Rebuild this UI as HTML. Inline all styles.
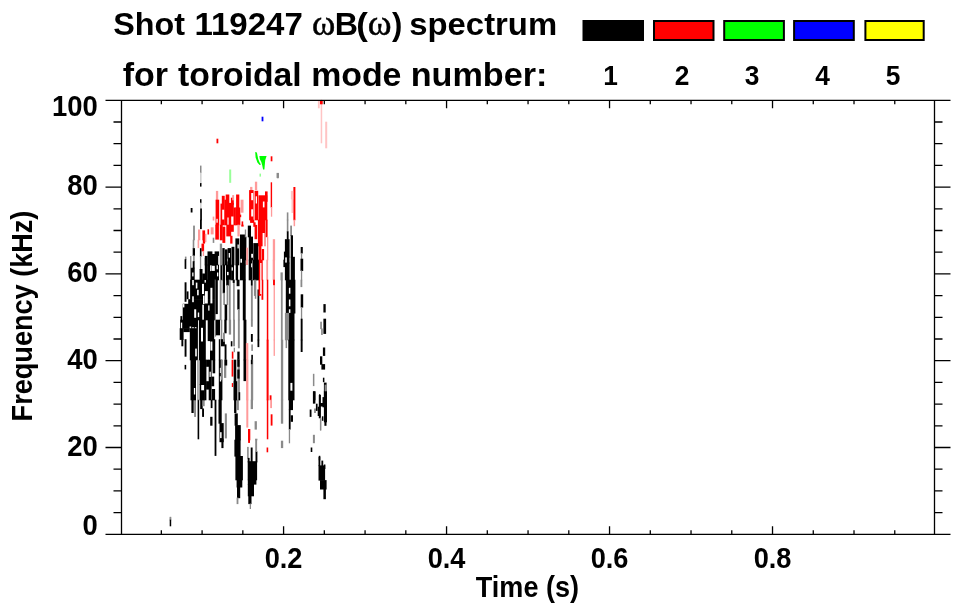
<!DOCTYPE html>
<html><head><meta charset="utf-8"><style>
html,body{margin:0;padding:0;background:#fff;width:963px;height:615px;overflow:hidden}
svg{position:absolute;left:0;top:0}
text{font-family:"Liberation Sans",Arial,sans-serif;font-weight:bold;fill:#000}
.g{font-family:"Liberation Serif","DejaVu Serif",serif;font-weight:normal;stroke:#000;stroke-width:0.45px}
</style></head><body>
<svg width="963" height="615" viewBox="0 0 963 615">
<defs><filter id="bl" x="0" y="0" width="1" height="1"><feGaussianBlur stdDeviation="0.5"/></filter></defs><g filter="url(#bl)"><rect x="200.0" y="165.6" width="1.5" height="7.4" fill="#8a8a8a"/>
<rect x="200.2" y="172.4" width="1.3" height="11.3" fill="#c8c8c8"/>
<rect x="200.0" y="183.1" width="1.5" height="3.5" fill="#000"/>
<rect x="200.0" y="199.2" width="1.5" height="4.0" fill="#000"/>
<rect x="200.2" y="202.6" width="1.3" height="6.5" fill="#c8c8c8"/>
<rect x="200.2" y="208.5" width="1.7" height="11.8" fill="#000"/>
<rect x="190.7" y="208.0" width="1.8" height="4.5" fill="#000"/>
<rect x="229.2" y="169.5" width="2.0" height="13.3" fill="#9f9"/>
<rect x="276.6" y="172.9" width="2.3" height="5.0" fill="#8a8a8a"/>
<rect x="293.4" y="187.0" width="2.0" height="33.3" fill="#f00"/>
<rect x="290.9" y="190.9" width="2.3" height="8.4" fill="#ffc4c4"/>
<rect x="291.5" y="198.7" width="1.5" height="14.3" fill="#ffc4c4"/>
<rect x="286.8" y="212.4" width="1.6" height="7.9" fill="#8a8a8a"/>
<rect x="200.0" y="219.7" width="1.8" height="9.4" fill="#000"/>
<rect x="193.1" y="225.6" width="1.8" height="14.7" fill="#8a8a8a"/>
<rect x="198.0" y="229.5" width="2.3" height="10.8" fill="#ff9a9a"/>
<rect x="202.4" y="230.4" width="2.7" height="9.9" fill="#f00"/>
<rect x="258.0" y="259.7" width="4.7" height="20.6" fill="#f00"/>
<rect x="266.3" y="259.7" width="1.8" height="20.6" fill="#ff9a9a"/>
<rect x="254.8" y="259.7" width="2.5" height="2.6" fill="#000"/>
<rect x="254.8" y="268.5" width="2.5" height="11.8" fill="#000"/>
<rect x="254.8" y="259.7" width="4.0" height="20.6" fill="#000"/>
<rect x="272.7" y="259.7" width="2.3" height="20.6" fill="#ff9a9a"/>
<rect x="283.4" y="259.7" width="1.8" height="7.4" fill="#000"/>
<rect x="280.5" y="272.4" width="2.3" height="7.9" fill="#8a8a8a"/>
<rect x="286.8" y="219.7" width="1.6" height="12.3" fill="#8a8a8a"/>
<rect x="286.8" y="231.4" width="1.8" height="8.4" fill="#000"/>
<rect x="284.9" y="239.2" width="4.7" height="18.2" fill="#000"/>
<rect x="286.8" y="256.8" width="2.7" height="6.5" fill="#000"/>
<rect x="284.9" y="262.6" width="4.7" height="17.7" fill="#000"/>
<rect x="290.2" y="225.6" width="1.8" height="10.4" fill="#8a8a8a"/>
<rect x="290.7" y="235.3" width="2.3" height="22.1" fill="#000"/>
<rect x="290.7" y="256.8" width="4.2" height="23.5" fill="#000"/>
<rect x="293.6" y="219.7" width="1.5" height="6.5" fill="#ff9a9a"/>
<rect x="300.7" y="247.0" width="2.1" height="6.5" fill="#000"/>
<rect x="300.9" y="252.9" width="1.3" height="6.5" fill="#8a8a8a"/>
<rect x="300.5" y="258.7" width="2.7" height="12.3" fill="#000"/>
<rect x="300.9" y="270.4" width="1.3" height="9.9" fill="#8a8a8a"/>
<rect x="254.8" y="279.7" width="1.5" height="19.1" fill="#8a8a8a"/>
<rect x="257.5" y="289.5" width="1.8" height="50.8" fill="#000"/>
<rect x="266.8" y="279.7" width="1.5" height="60.6" fill="#f00"/>
<rect x="273.6" y="279.7" width="1.3" height="60.6" fill="#ff9a9a"/>
<rect x="273.1" y="279.7" width="1.8" height="5.5" fill="#f00"/>
<rect x="280.9" y="279.7" width="1.8" height="60.6" fill="#8a8a8a"/>
<rect x="285.8" y="279.7" width="9.6" height="33.8" fill="#000"/>
<rect x="288.9" y="287.8" width="1.5" height="5.9" fill="#fff"/>
<rect x="288.9" y="299.5" width="1.5" height="6.8" fill="#fff"/>
<rect x="288.9" y="309.3" width="1.5" height="3.9" fill="#fff"/>
<rect x="288.8" y="312.9" width="5.7" height="27.4" fill="#000"/>
<rect x="284.9" y="312.9" width="4.2" height="27.4" fill="#8a8a8a"/>
<rect x="300.5" y="279.7" width="1.8" height="7.4" fill="#8a8a8a"/>
<rect x="300.7" y="294.3" width="2.5" height="13.3" fill="#000"/>
<rect x="300.9" y="307.0" width="1.3" height="12.3" fill="#8a8a8a"/>
<rect x="300.7" y="318.7" width="1.9" height="21.6" fill="#000"/>
<rect x="323.4" y="304.1" width="2.3" height="8.4" fill="#000"/>
<rect x="323.4" y="318.7" width="2.7" height="15.2" fill="#000"/>
<rect x="320.2" y="321.7" width="1.7" height="7.4" fill="#8a8a8a"/>
<rect x="321.1" y="328.5" width="1.7" height="6.5" fill="#8a8a8a"/>
<rect x="257.5" y="339.7" width="1.8" height="7.4" fill="#000"/>
<rect x="266.6" y="339.7" width="2.0" height="60.6" fill="#f00"/>
<rect x="269.7" y="395.3" width="1.8" height="5.0" fill="#f00"/>
<rect x="273.6" y="339.7" width="1.3" height="16.2" fill="#ff9a9a"/>
<rect x="280.9" y="339.7" width="2.3" height="60.6" fill="#8a8a8a"/>
<rect x="288.3" y="339.7" width="6.2" height="60.6" fill="#000"/>
<rect x="290.4" y="382.9" width="2.0" height="7.8" fill="#fff"/>
<rect x="285.6" y="339.7" width="1.5" height="8.4" fill="#8a8a8a"/>
<rect x="300.7" y="339.7" width="1.9" height="12.3" fill="#000"/>
<rect x="322.9" y="347.5" width="2.3" height="8.4" fill="#000"/>
<rect x="320.0" y="356.3" width="2.3" height="8.4" fill="#000"/>
<rect x="321.4" y="364.1" width="3.7" height="5.5" fill="#000"/>
<rect x="312.9" y="373.8" width="1.5" height="12.3" fill="#8a8a8a"/>
<rect x="313.1" y="391.4" width="2.3" height="8.9" fill="#000"/>
<rect x="319.0" y="394.3" width="1.3" height="6.0" fill="#000"/>
<rect x="322.9" y="377.7" width="1.5" height="4.5" fill="#000"/>
<rect x="323.9" y="382.6" width="2.7" height="17.7" fill="#000"/>
<rect x="191.4" y="399.7" width="2.3" height="13.3" fill="#000"/>
<rect x="194.1" y="399.7" width="1.9" height="17.2" fill="#8a8a8a"/>
<rect x="197.6" y="399.7" width="1.6" height="39.6" fill="#000"/>
<rect x="200.2" y="399.7" width="2.5" height="9.4" fill="#000"/>
<rect x="202.4" y="399.7" width="2.3" height="6.5" fill="#8a8a8a"/>
<rect x="202.1" y="408.5" width="1.9" height="8.4" fill="#000"/>
<rect x="210.7" y="399.7" width="1.8" height="8.4" fill="#000"/>
<rect x="210.2" y="416.8" width="2.3" height="8.9" fill="#000"/>
<rect x="214.6" y="399.7" width="1.8" height="56.2" fill="#000"/>
<rect x="218.5" y="399.7" width="3.2" height="24.0" fill="#000"/>
<rect x="219.5" y="423.1" width="4.2" height="19.1" fill="#000"/>
<rect x="220.1" y="432.2" width="1.5" height="5.9" fill="#fff"/>
<rect x="221.4" y="438.7" width="2.1" height="9.4" fill="#000"/>
<rect x="224.8" y="413.4" width="2.1" height="25.0" fill="#8a8a8a"/>
<rect x="234.1" y="399.7" width="2.3" height="13.3" fill="#000"/>
<rect x="236.6" y="399.7" width="2.3" height="10.4" fill="#8a8a8a"/>
<rect x="234.6" y="413.4" width="3.2" height="12.3" fill="#000"/>
<rect x="235.1" y="425.1" width="5.7" height="15.2" fill="#000"/>
<rect x="246.3" y="399.7" width="2.0" height="27.9" fill="#ff9a9a"/>
<rect x="248.0" y="429.0" width="2.3" height="11.3" fill="#f00"/>
<rect x="250.7" y="399.7" width="2.3" height="9.4" fill="#8a8a8a"/>
<rect x="254.6" y="421.2" width="2.3" height="8.4" fill="#8a8a8a"/>
<rect x="255.1" y="438.7" width="2.3" height="1.6" fill="#8a8a8a"/>
<rect x="266.8" y="399.7" width="1.5" height="39.6" fill="#f00"/>
<rect x="270.2" y="399.7" width="1.8" height="8.4" fill="#ff9a9a"/>
<rect x="270.7" y="414.3" width="1.8" height="11.3" fill="#f00"/>
<rect x="280.9" y="399.7" width="2.3" height="24.0" fill="#8a8a8a"/>
<rect x="280.9" y="440.7" width="2.3" height="7.4" fill="#8a8a8a"/>
<rect x="288.8" y="399.7" width="4.2" height="10.4" fill="#000"/>
<rect x="288.8" y="409.5" width="1.8" height="20.1" fill="#000"/>
<rect x="290.7" y="415.3" width="2.3" height="6.5" fill="#000"/>
<rect x="288.8" y="429.0" width="1.3" height="14.3" fill="#8a8a8a"/>
<rect x="309.7" y="409.5" width="1.8" height="7.4" fill="#000"/>
<rect x="313.1" y="399.7" width="1.3" height="3.5" fill="#000"/>
<rect x="314.1" y="408.5" width="1.8" height="4.5" fill="#8a8a8a"/>
<rect x="320.0" y="418.2" width="1.3" height="12.3" fill="#8a8a8a"/>
<rect x="321.9" y="416.3" width="1.5" height="4.5" fill="#000"/>
<rect x="312.9" y="434.8" width="2.0" height="8.4" fill="#8a8a8a"/>
<rect x="310.7" y="447.5" width="1.6" height="4.5" fill="#000"/>
<rect x="318.8" y="455.8" width="1.5" height="4.5" fill="#000"/>
<rect x="169.7" y="516.8" width="1.5" height="3.5" fill="#8a8a8a"/>
<rect x="236.6" y="479.7" width="5.7" height="7.8" fill="#000"/>
<rect x="237.0" y="486.9" width="3.2" height="11.3" fill="#000"/>
<rect x="236.6" y="497.6" width="1.8" height="6.5" fill="#8a8a8a"/>
<rect x="247.8" y="479.7" width="8.6" height="4.9" fill="#000"/>
<rect x="247.8" y="484.0" width="6.2" height="12.3" fill="#000"/>
<rect x="248.3" y="495.7" width="3.2" height="8.4" fill="#000"/>
<rect x="249.7" y="503.5" width="1.3" height="5.5" fill="#8a8a8a"/>
<rect x="318.5" y="456.7" width="1.8" height="9.4" fill="#000"/>
<rect x="318.5" y="465.4" width="6.6" height="15.2" fill="#000"/>
<rect x="320.0" y="480.1" width="6.6" height="9.4" fill="#000"/>
<rect x="323.4" y="488.8" width="2.5" height="10.4" fill="#000"/>
<rect x="321.4" y="460.6" width="1.8" height="5.5" fill="#000"/>
<rect x="323.9" y="464.5" width="1.5" height="4.5" fill="#000"/>
<rect x="192.7" y="239.7" width="1.6" height="9.1" fill="#8a8a8a"/>
<rect x="192.7" y="248.2" width="2.3" height="7.8" fill="#000"/>
<rect x="193.1" y="255.3" width="1.6" height="6.5" fill="#8a8a8a"/>
<rect x="192.7" y="261.2" width="1.9" height="7.1" fill="#000"/>
<rect x="190.5" y="267.7" width="4.2" height="12.6" fill="#000"/>
<rect x="192.2" y="272.5" width="1.3" height="3.9" fill="#fff"/>
<rect x="190.1" y="256.0" width="1.3" height="12.3" fill="#8a8a8a"/>
<rect x="184.9" y="256.6" width="1.6" height="3.2" fill="#8a8a8a"/>
<rect x="184.6" y="259.2" width="1.7" height="9.7" fill="#000"/>
<rect x="197.6" y="239.7" width="1.6" height="8.4" fill="#ff9a9a"/>
<rect x="201.5" y="243.6" width="2.6" height="7.8" fill="#f00"/>
<rect x="202.8" y="239.7" width="2.3" height="3.9" fill="#f00"/>
<rect x="202.8" y="250.8" width="1.3" height="5.2" fill="#ff9a9a"/>
<rect x="199.9" y="248.2" width="1.6" height="8.4" fill="#000"/>
<rect x="199.9" y="256.0" width="1.3" height="13.6" fill="#8a8a8a"/>
<rect x="199.6" y="269.0" width="2.9" height="11.3" fill="#000"/>
<rect x="202.2" y="273.5" width="2.9" height="6.8" fill="#000"/>
<rect x="204.8" y="264.7" width="2.9" height="15.6" fill="#000"/>
<rect x="204.8" y="257.9" width="0.4" height="7.4" fill="#000"/>
<rect x="207.4" y="264.7" width="4.2" height="15.6" fill="#000"/>
<rect x="210.1" y="265.0" width="1.3" height="6.2" fill="#fff"/>
<rect x="212.2" y="264.7" width="2.9" height="1.0" fill="#000"/>
<rect x="210.6" y="270.9" width="4.5" height="9.4" fill="#000"/>
<rect x="214.8" y="264.7" width="4.2" height="15.6" fill="#000"/>
<rect x="216.6" y="265.0" width="1.3" height="4.3" fill="#fff"/>
<rect x="217.0" y="272.5" width="1.3" height="3.9" fill="#fff"/>
<rect x="220.4" y="264.7" width="1.9" height="15.6" fill="#000"/>
<rect x="222.7" y="264.7" width="2.3" height="15.6" fill="#000"/>
<rect x="225.9" y="264.7" width="5.2" height="15.6" fill="#000"/>
<rect x="227.0" y="271.9" width="1.6" height="3.3" fill="#fff"/>
<rect x="231.1" y="264.7" width="2.9" height="15.6" fill="#000"/>
<rect x="231.6" y="267.3" width="1.3" height="3.3" fill="#fff"/>
<rect x="235.7" y="264.7" width="2.4" height="15.6" fill="#000"/>
<rect x="239.9" y="264.7" width="5.8" height="15.6" fill="#000"/>
<rect x="244.8" y="259.7" width="0.9" height="5.6" fill="#000"/>
<rect x="245.9" y="259.7" width="2.1" height="5.3" fill="#ff9a9a"/>
<rect x="248.7" y="259.7" width="3.6" height="20.6" fill="#000"/>
<rect x="251.1" y="263.4" width="1.3" height="3.9" fill="#fff"/>
<rect x="252.6" y="259.7" width="2.6" height="20.6" fill="#000"/>
<rect x="184.6" y="282.3" width="1.9" height="19.5" fill="#000"/>
<rect x="186.6" y="291.4" width="1.9" height="7.8" fill="#000"/>
<rect x="180.4" y="316.1" width="1.9" height="4.2" fill="#000"/>
<rect x="182.7" y="303.8" width="32.5" height="16.5" fill="#000"/>
<rect x="188.2" y="299.2" width="27.0" height="5.2" fill="#000"/>
<rect x="190.1" y="279.7" width="25.0" height="20.1" fill="#000"/>
<rect x="192.2" y="280.0" width="1.6" height="5.2" fill="#fff"/>
<rect x="192.2" y="296.3" width="1.6" height="5.9" fill="#fff"/>
<rect x="195.8" y="282.6" width="1.6" height="5.9" fill="#fff"/>
<rect x="197.1" y="289.8" width="1.6" height="5.5" fill="#fff"/>
<rect x="202.0" y="283.9" width="2.0" height="10.1" fill="#fff"/>
<rect x="204.9" y="291.1" width="2.9" height="12.4" fill="#fff"/>
<rect x="210.4" y="287.8" width="2.0" height="15.6" fill="#fff"/>
<rect x="203.0" y="295.6" width="1.6" height="8.5" fill="#fff"/>
<rect x="194.2" y="309.3" width="2.0" height="8.5" fill="#fff"/>
<rect x="197.8" y="312.5" width="1.4" height="4.6" fill="#fff"/>
<rect x="202.3" y="304.7" width="1.6" height="15.3" fill="#fff"/>
<rect x="208.2" y="305.4" width="1.3" height="5.2" fill="#fff"/>
<rect x="182.8" y="304.1" width="1.6" height="3.3" fill="#fff"/>
<rect x="204.6" y="280.0" width="1.3" height="2.6" fill="#fff"/>
<rect x="214.8" y="279.7" width="1.1" height="40.6" fill="#8a8a8a"/>
<rect x="215.5" y="279.7" width="2.3" height="34.4" fill="#000"/>
<rect x="219.7" y="279.7" width="1.9" height="40.6" fill="#8a8a8a"/>
<rect x="222.7" y="279.7" width="2.3" height="13.6" fill="#000"/>
<rect x="223.3" y="292.7" width="1.6" height="12.3" fill="#8a8a8a"/>
<rect x="224.6" y="304.4" width="2.6" height="15.9" fill="#000"/>
<rect x="226.2" y="279.7" width="3.6" height="5.8" fill="#000"/>
<rect x="226.6" y="284.9" width="1.6" height="20.1" fill="#8a8a8a"/>
<rect x="228.8" y="279.7" width="1.9" height="40.6" fill="#8a8a8a"/>
<rect x="233.1" y="279.7" width="1.6" height="40.6" fill="#8a8a8a"/>
<rect x="232.7" y="279.7" width="1.9" height="3.2" fill="#000"/>
<rect x="236.6" y="279.7" width="2.9" height="6.5" fill="#000"/>
<rect x="237.3" y="289.5" width="2.3" height="20.1" fill="#000"/>
<rect x="237.9" y="309.0" width="1.9" height="11.3" fill="#8a8a8a"/>
<rect x="242.8" y="279.7" width="2.9" height="40.6" fill="#000"/>
<rect x="250.9" y="279.7" width="1.9" height="40.6" fill="#8a8a8a"/>
<rect x="250.9" y="279.7" width="1.6" height="5.8" fill="#000"/>
<rect x="253.9" y="279.7" width="1.3" height="16.2" fill="#8a8a8a"/>
<rect x="180.1" y="319.7" width="17.9" height="9.1" fill="#000"/>
<rect x="180.9" y="322.6" width="1.3" height="6.5" fill="#fff"/>
<rect x="189.6" y="326.5" width="1.6" height="6.5" fill="#fff"/>
<rect x="192.2" y="327.2" width="1.6" height="9.1" fill="#fff"/>
<rect x="194.8" y="327.2" width="1.6" height="7.8" fill="#fff"/>
<rect x="179.7" y="328.2" width="3.9" height="11.7" fill="#000"/>
<rect x="181.4" y="339.2" width="1.9" height="7.1" fill="#000"/>
<rect x="184.6" y="339.2" width="1.9" height="17.5" fill="#000"/>
<rect x="183.3" y="328.2" width="6.5" height="3.9" fill="#000"/>
<rect x="189.8" y="328.2" width="8.1" height="32.1" fill="#000"/>
<rect x="195.2" y="348.6" width="1.6" height="7.8" fill="#fff"/>
<rect x="198.9" y="319.7" width="2.3" height="40.6" fill="#000"/>
<rect x="200.9" y="319.7" width="4.9" height="40.6" fill="#000"/>
<rect x="201.0" y="327.8" width="2.0" height="13.7" fill="#fff"/>
<rect x="207.7" y="319.7" width="2.3" height="21.4" fill="#000"/>
<rect x="210.0" y="319.7" width="4.2" height="40.6" fill="#000"/>
<rect x="210.4" y="341.5" width="2.0" height="9.1" fill="#fff"/>
<rect x="213.9" y="339.2" width="1.3" height="21.1" fill="#000"/>
<rect x="214.8" y="319.7" width="1.3" height="16.9" fill="#8a8a8a"/>
<rect x="215.8" y="319.7" width="4.2" height="15.6" fill="#000"/>
<rect x="220.7" y="319.7" width="1.6" height="20.1" fill="#8a8a8a"/>
<rect x="218.8" y="339.2" width="1.6" height="21.1" fill="#000"/>
<rect x="221.0" y="339.2" width="3.9" height="7.1" fill="#000"/>
<rect x="224.6" y="344.4" width="1.9" height="15.9" fill="#000"/>
<rect x="224.3" y="319.7" width="2.3" height="13.6" fill="#000"/>
<rect x="223.0" y="332.7" width="1.9" height="9.1" fill="#8a8a8a"/>
<rect x="228.8" y="319.7" width="2.3" height="14.9" fill="#8a8a8a"/>
<rect x="233.1" y="319.7" width="1.9" height="26.6" fill="#8a8a8a"/>
<rect x="237.9" y="319.7" width="1.9" height="28.6" fill="#8a8a8a"/>
<rect x="230.8" y="341.2" width="1.6" height="5.2" fill="#000"/>
<rect x="231.8" y="351.6" width="1.6" height="7.1" fill="#f00"/>
<rect x="233.7" y="347.7" width="1.3" height="4.5" fill="#8a8a8a"/>
<rect x="237.3" y="351.6" width="2.3" height="8.7" fill="#000"/>
<rect x="243.5" y="319.7" width="2.9" height="40.6" fill="#000"/>
<rect x="245.9" y="343.1" width="2.4" height="17.2" fill="#ff9a9a"/>
<rect x="250.9" y="319.7" width="1.9" height="7.1" fill="#8a8a8a"/>
<rect x="250.9" y="334.0" width="1.9" height="7.8" fill="#000"/>
<rect x="251.3" y="344.4" width="1.6" height="6.5" fill="#8a8a8a"/>
<rect x="251.3" y="354.8" width="1.6" height="5.5" fill="#000"/>
<rect x="184.6" y="364.9" width="1.6" height="4.5" fill="#000"/>
<rect x="190.5" y="359.7" width="5.5" height="40.6" fill="#000"/>
<rect x="193.9" y="388.0" width="1.3" height="6.5" fill="#fff"/>
<rect x="197.3" y="359.7" width="1.3" height="40.6" fill="#8a8a8a"/>
<rect x="199.6" y="359.7" width="6.8" height="25.3" fill="#000"/>
<rect x="199.6" y="384.4" width="1.6" height="15.9" fill="#000"/>
<rect x="204.1" y="384.4" width="2.3" height="15.9" fill="#000"/>
<rect x="200.9" y="390.3" width="3.6" height="10.0" fill="#000"/>
<rect x="206.1" y="359.7" width="2.9" height="7.1" fill="#000"/>
<rect x="206.1" y="381.2" width="2.9" height="8.4" fill="#000"/>
<rect x="208.7" y="359.7" width="2.9" height="40.6" fill="#000"/>
<rect x="209.5" y="371.7" width="1.3" height="5.2" fill="#fff"/>
<rect x="211.3" y="376.6" width="2.9" height="9.7" fill="#000"/>
<rect x="211.9" y="389.0" width="3.2" height="11.3" fill="#000"/>
<rect x="212.6" y="359.7" width="2.6" height="13.6" fill="#000"/>
<rect x="218.8" y="359.7" width="3.6" height="40.6" fill="#000"/>
<rect x="219.9" y="367.8" width="1.3" height="5.2" fill="#fff"/>
<rect x="219.9" y="376.3" width="1.3" height="5.2" fill="#fff"/>
<rect x="220.7" y="359.7" width="1.6" height="20.1" fill="#8a8a8a"/>
<rect x="224.0" y="359.7" width="2.3" height="18.2" fill="#8a8a8a"/>
<rect x="224.6" y="359.7" width="2.6" height="5.8" fill="#000"/>
<rect x="231.6" y="359.7" width="1.7" height="16.9" fill="#f00"/>
<rect x="231.8" y="383.1" width="1.3" height="3.9" fill="#f00"/>
<rect x="233.7" y="359.7" width="2.6" height="40.6" fill="#000"/>
<rect x="233.7" y="381.2" width="3.6" height="19.1" fill="#000"/>
<rect x="237.6" y="359.7" width="2.3" height="40.6" fill="#8a8a8a"/>
<rect x="237.3" y="359.7" width="2.3" height="7.1" fill="#000"/>
<rect x="237.3" y="369.5" width="2.3" height="9.1" fill="#000"/>
<rect x="238.6" y="392.2" width="1.6" height="8.1" fill="#000"/>
<rect x="243.5" y="359.7" width="2.9" height="21.4" fill="#000"/>
<rect x="246.1" y="359.7" width="2.3" height="40.6" fill="#ff9a9a"/>
<rect x="250.9" y="359.7" width="2.3" height="40.6" fill="#8a8a8a"/>
<rect x="250.9" y="359.7" width="1.6" height="4.5" fill="#000"/>
<rect x="215.9" y="190.9" width="2.3" height="9.4" fill="#ff9a9a"/>
<rect x="215.6" y="199.7" width="3.6" height="25.6" fill="#f00"/>
<rect x="216.4" y="218.8" width="1.3" height="3.9" fill="#fff"/>
<rect x="220.5" y="203.6" width="1.6" height="21.7" fill="#f00"/>
<rect x="221.8" y="195.8" width="2.9" height="29.5" fill="#f00"/>
<rect x="222.2" y="209.7" width="2.3" height="9.8" fill="#fff"/>
<rect x="225.7" y="194.5" width="3.6" height="30.8" fill="#f00"/>
<rect x="224.4" y="199.7" width="1.6" height="25.6" fill="#f00"/>
<rect x="227.4" y="217.5" width="1.3" height="7.5" fill="#fff"/>
<rect x="228.9" y="202.9" width="4.9" height="13.6" fill="#f00"/>
<rect x="230.9" y="197.7" width="2.9" height="7.1" fill="#f00"/>
<rect x="232.2" y="195.1" width="1.9" height="5.2" fill="#ff9a9a"/>
<rect x="228.9" y="215.9" width="2.3" height="9.4" fill="#f00"/>
<rect x="233.5" y="207.5" width="2.3" height="17.8" fill="#f00"/>
<rect x="236.1" y="194.5" width="3.2" height="21.4" fill="#f00"/>
<rect x="235.4" y="207.5" width="4.9" height="17.8" fill="#f00"/>
<rect x="240.6" y="199.7" width="2.9" height="13.0" fill="#ff9a9a"/>
<rect x="239.3" y="214.6" width="1.9" height="2.6" fill="#f00"/>
<rect x="241.6" y="221.4" width="1.6" height="3.9" fill="#f00"/>
<rect x="212.7" y="216.6" width="1.6" height="3.9" fill="#ff9a9a"/>
<rect x="207.5" y="229.3" width="1.6" height="5.2" fill="#f00"/>
<rect x="210.7" y="227.3" width="2.9" height="7.1" fill="#ff9a9a"/>
<rect x="204.8" y="233.8" width="1.6" height="8.4" fill="#ff9a9a"/>
<rect x="215.3" y="224.7" width="3.6" height="14.9" fill="#f00"/>
<rect x="219.8" y="224.7" width="2.9" height="15.6" fill="#f00"/>
<rect x="222.4" y="226.7" width="2.9" height="16.2" fill="#f00"/>
<rect x="226.3" y="224.7" width="4.9" height="11.7" fill="#f00"/>
<rect x="230.2" y="235.8" width="2.3" height="7.8" fill="#f00"/>
<rect x="230.9" y="224.7" width="2.9" height="7.1" fill="#f00"/>
<rect x="237.4" y="224.7" width="2.3" height="11.7" fill="#ff9a9a"/>
<rect x="241.3" y="224.7" width="2.3" height="1.9" fill="#f00"/>
<rect x="212.7" y="237.7" width="1.6" height="5.2" fill="#8a8a8a"/>
<rect x="207.5" y="251.4" width="4.9" height="13.9" fill="#000"/>
<rect x="204.8" y="255.9" width="2.9" height="9.4" fill="#000"/>
<rect x="212.0" y="254.0" width="6.2" height="11.3" fill="#000"/>
<rect x="214.6" y="251.4" width="4.5" height="4.5" fill="#000"/>
<rect x="219.8" y="243.6" width="2.3" height="21.7" fill="#8a8a8a"/>
<rect x="222.4" y="248.1" width="2.3" height="17.2" fill="#000"/>
<rect x="225.0" y="249.4" width="2.6" height="15.9" fill="#000"/>
<rect x="227.1" y="258.8" width="1.3" height="2.6" fill="#fff"/>
<rect x="227.6" y="248.1" width="3.6" height="17.2" fill="#000"/>
<rect x="228.7" y="253.0" width="1.3" height="4.6" fill="#fff"/>
<rect x="231.5" y="246.8" width="2.9" height="18.5" fill="#000"/>
<rect x="235.4" y="238.4" width="3.9" height="26.9" fill="#000"/>
<rect x="237.5" y="244.5" width="1.3" height="3.9" fill="#fff"/>
<rect x="240.0" y="234.5" width="5.2" height="30.8" fill="#000"/>
<rect x="240.4" y="258.8" width="1.6" height="3.9" fill="#fff"/>
<rect x="254.9" y="181.7" width="2.3" height="8.4" fill="#ff9a9a"/>
<rect x="250.1" y="186.9" width="2.3" height="4.5" fill="#ff9a9a"/>
<rect x="249.1" y="190.1" width="4.5" height="30.2" fill="#f00"/>
<rect x="251.2" y="193.0" width="2.0" height="7.2" fill="#fff"/>
<rect x="251.2" y="209.3" width="2.0" height="7.2" fill="#fff"/>
<rect x="254.6" y="190.8" width="3.6" height="29.5" fill="#f00"/>
<rect x="255.7" y="196.3" width="1.3" height="7.2" fill="#fff"/>
<rect x="258.5" y="195.3" width="8.8" height="25.0" fill="#f00"/>
<rect x="262.9" y="201.5" width="1.6" height="5.9" fill="#fff"/>
<rect x="265.0" y="191.4" width="2.6" height="10.4" fill="#f00"/>
<rect x="270.7" y="182.3" width="1.4" height="25.3" fill="#f00"/>
<rect x="270.9" y="207.0" width="1.3" height="9.7" fill="#ff9a9a"/>
<rect x="250.1" y="219.7" width="4.2" height="3.2" fill="#f00"/>
<rect x="253.3" y="222.3" width="2.3" height="4.5" fill="#f00"/>
<rect x="254.6" y="224.9" width="2.6" height="14.3" fill="#f00"/>
<rect x="257.9" y="219.7" width="7.5" height="26.6" fill="#f00"/>
<rect x="262.6" y="233.0" width="2.0" height="14.3" fill="#fff"/>
<rect x="258.5" y="245.7" width="2.9" height="14.6" fill="#f00"/>
<rect x="261.8" y="249.0" width="2.3" height="11.3" fill="#f00"/>
<rect x="265.7" y="219.7" width="1.9" height="17.5" fill="#f00"/>
<rect x="267.0" y="236.6" width="1.3" height="23.7" fill="#ff9a9a"/>
<rect x="272.8" y="239.2" width="2.3" height="21.1" fill="#ff9a9a"/>
<rect x="247.8" y="225.6" width="3.2" height="11.7" fill="#000"/>
<rect x="244.8" y="236.6" width="1.6" height="23.7" fill="#000"/>
<rect x="248.8" y="236.6" width="4.2" height="23.7" fill="#000"/>
<rect x="251.2" y="253.8" width="2.0" height="3.9" fill="#fff"/>
<rect x="253.3" y="243.1" width="4.9" height="17.2" fill="#000"/>
<rect x="246.2" y="247.7" width="1.9" height="12.6" fill="#ff9a9a"/>
<rect x="244.8" y="229.5" width="1.3" height="7.8" fill="#8a8a8a"/>
<rect x="283.9" y="251.6" width="1.3" height="8.7" fill="#000"/>
<rect x="234.4" y="439.7" width="6.2" height="16.9" fill="#000"/>
<rect x="235.4" y="456.0" width="7.5" height="24.3" fill="#000"/>
<rect x="247.1" y="446.9" width="1.6" height="11.7" fill="#8a8a8a"/>
<rect x="247.7" y="461.2" width="9.4" height="19.1" fill="#000"/>
<rect x="247.7" y="457.9" width="1.9" height="4.5" fill="#000"/>
<rect x="250.7" y="447.5" width="1.9" height="14.9" fill="#000"/>
<rect x="255.5" y="451.4" width="1.9" height="11.0" fill="#000"/>
<rect x="255.2" y="439.7" width="1.9" height="12.3" fill="#8a8a8a"/>
<rect x="248.1" y="439.7" width="1.9" height="3.2" fill="#f00"/>
<rect x="266.6" y="447.5" width="1.6" height="4.8" fill="#f00"/>
<rect x="261.6" y="116.7" width="1.8" height="4.6" fill="#00f"/>
<rect x="216.5" y="138.7" width="1.8" height="4.6" fill="#f00"/>
<rect x="270.7" y="156.3" width="1.7" height="5.0" fill="#f00"/>
<rect x="320.7" y="99.7" width="1.5" height="43.6" fill="#ffc4c4"/>
<rect x="319.9" y="100.2" width="2.8" height="4.1" fill="#f00"/>
<rect x="317.9" y="100.7" width="1.8" height="7.6" fill="#ffc4c4"/>
<rect x="325.2" y="121.7" width="2.0" height="26.6" fill="#ffc4c4"/>
<rect x="276.9" y="173.2" width="1.8" height="5.1" fill="#8a8a8a"/>
<rect x="169.7" y="517.2" width="1.5" height="3.1" fill="#8a8a8a"/>
<rect x="169.7" y="519.7" width="1.5" height="6.6" fill="#000"/>
<rect x="323.9" y="390.7" width="3.1" height="31.6" fill="#000"/>
<rect x="324.4" y="421.7" width="2.1" height="4.1" fill="#000"/>
<rect x="324.6" y="384.7" width="2.2" height="6.6" fill="#8a8a8a"/>
<rect x="318.8" y="394.9" width="2.1" height="23.4" fill="#000"/>
<rect x="319.5" y="403.0" width="4.7" height="3.5" fill="#000"/>
<rect x="322.5" y="397.1" width="2.1" height="10.2" fill="#000"/>
<rect x="317.7" y="406.7" width="2.1" height="9.3" fill="#000"/>
<rect x="312.9" y="391.3" width="2.5" height="12.3" fill="#000"/>
<rect x="315.9" y="403.7" width="1.7" height="7.2" fill="#000"/>
<rect x="319.9" y="417.7" width="1.3" height="12.6" fill="#8a8a8a"/>
<rect x="258.5" y="279.7" width="2.5" height="16.1" fill="#f00"/>
<rect x="261.5" y="279.7" width="1.8" height="20.1" fill="#f00"/>
<rect x="260.2" y="263.0" width="1.3" height="31.0" fill="#fff"/>
<polygon points="255.2,152 256.9,152.6 258.2,159 259.6,162.5 261,164.6 259.6,165 257.4,162.4 255.6,157.5" fill="#0f0"/>
<polygon points="259.4,156.1 266.6,156.1 265.2,160.2 264.4,169.6 263.1,169.6 262.2,165.3 261.3,162 259.8,159" fill="#0f0"/>
<rect x="259.6" y="173.6" width="1.2" height="3" fill="#7f7"/></g>
<path d="M121.5,100.3H934.5V534.3H121.5ZM105.5,534.30H121.5M934.5,534.30H950.5M113.5,512.60H121.5M934.5,512.60H942.5M113.5,490.90H121.5M934.5,490.90H942.5M113.5,469.20H121.5M934.5,469.20H942.5M105.5,447.50H121.5M934.5,447.50H950.5M113.5,425.80H121.5M934.5,425.80H942.5M113.5,404.10H121.5M934.5,404.10H942.5M113.5,382.40H121.5M934.5,382.40H942.5M105.5,360.70H121.5M934.5,360.70H950.5M113.5,339.00H121.5M934.5,339.00H942.5M113.5,317.30H121.5M934.5,317.30H942.5M113.5,295.60H121.5M934.5,295.60H942.5M105.5,273.90H121.5M934.5,273.90H950.5M113.5,252.20H121.5M934.5,252.20H942.5M113.5,230.50H121.5M934.5,230.50H942.5M113.5,208.80H121.5M934.5,208.80H942.5M105.5,187.10H121.5M934.5,187.10H950.5M113.5,165.40H121.5M934.5,165.40H942.5M113.5,143.70H121.5M934.5,143.70H942.5M113.5,122.00H121.5M934.5,122.00H942.5M105.5,100.30H121.5M934.5,100.30H950.5M161.34,534.3V530.3M161.34,100.3V104.3M202.09,534.3V530.3M202.09,100.3V104.3M242.84,534.3V530.3M242.84,100.3V104.3M283.58,534.3V526.3M283.58,100.3V108.3M324.32,534.3V530.3M324.32,100.3V104.3M365.07,534.3V530.3M365.07,100.3V104.3M405.82,534.3V530.3M405.82,100.3V104.3M446.56,534.3V526.3M446.56,100.3V108.3M487.30,534.3V530.3M487.30,100.3V104.3M528.05,534.3V530.3M528.05,100.3V104.3M568.80,534.3V530.3M568.80,100.3V104.3M609.54,534.3V526.3M609.54,100.3V108.3M650.29,534.3V530.3M650.29,100.3V104.3M691.03,534.3V530.3M691.03,100.3V104.3M731.77,534.3V530.3M731.77,100.3V104.3M772.52,534.3V526.3M772.52,100.3V108.3M813.27,534.3V530.3M813.27,100.3V104.3M854.01,534.3V530.3M854.01,100.3V104.3M894.76,534.3V530.3M894.76,100.3V104.3" fill="none" stroke="#000" stroke-width="1.3"/>
<rect x="582.5" y="20" width="61.5" height="21" fill="#000"/>
<rect x="654" y="21" width="59.5" height="19" fill="#f00" stroke="#000" stroke-width="2"/>
<rect x="724.2" y="21" width="59.7" height="19" fill="#0f0" stroke="#000" stroke-width="2"/>
<rect x="794.1" y="21" width="59.7" height="19" fill="#00f" stroke="#000" stroke-width="2"/>
<rect x="865.4" y="21" width="58.3" height="19" fill="#ff0" stroke="#000" stroke-width="2"/>
<text transform="translate(113.19,34.90)" font-size="32" text-anchor="start" textLength="71.8" lengthAdjust="spacingAndGlyphs">Shot</text>
<text transform="translate(194.44,34.90)" font-size="32" text-anchor="start" textLength="108.4" lengthAdjust="spacingAndGlyphs">119247</text>
<text transform="translate(311.99,35.20) scale(1.0,1.12)" font-size="32" text-anchor="start" class="g" textLength="23.3" lengthAdjust="spacingAndGlyphs">ω</text>
<text transform="translate(334.69,34.90)" font-size="32" text-anchor="start" textLength="23.2" lengthAdjust="spacingAndGlyphs">B</text>
<text transform="translate(356.32,34.90)" font-size="32" text-anchor="start" textLength="11.6" lengthAdjust="spacingAndGlyphs">(</text>
<text transform="translate(367.87,35.20) scale(1.0,1.12)" font-size="32" text-anchor="start" class="g" textLength="23.8" lengthAdjust="spacingAndGlyphs">ω</text>
<text transform="translate(392.00,34.90)" font-size="32" text-anchor="start" textLength="10.3" lengthAdjust="spacingAndGlyphs">)</text>
<text transform="translate(409.25,34.90)" font-size="32" text-anchor="start" textLength="147.9" lengthAdjust="spacingAndGlyphs">spectrum</text>
<text transform="translate(122.67,85.90)" font-size="33" text-anchor="start" textLength="45.3" lengthAdjust="spacingAndGlyphs">for</text>
<text transform="translate(178.10,85.90)" font-size="33" text-anchor="start" textLength="123.6" lengthAdjust="spacingAndGlyphs">toroidal</text>
<text transform="translate(311.15,85.90)" font-size="33" text-anchor="start" textLength="90.3" lengthAdjust="spacingAndGlyphs">mode</text>
<text transform="translate(410.73,85.90)" font-size="33" text-anchor="start" textLength="136.7" lengthAdjust="spacingAndGlyphs">number:</text>
<text transform="translate(610.50,85.00) scale(0.94,1.0)" font-size="28" text-anchor="middle">1</text>
<text transform="translate(682.00,85.00) scale(0.94,1.0)" font-size="28" text-anchor="middle">2</text>
<text transform="translate(752.00,85.00) scale(0.94,1.0)" font-size="28" text-anchor="middle">3</text>
<text transform="translate(822.50,85.00) scale(0.94,1.0)" font-size="28" text-anchor="middle">4</text>
<text transform="translate(893.00,85.00) scale(0.94,1.0)" font-size="28" text-anchor="middle">5</text>
<text transform="translate(97.70,116.00) scale(0.98,1.05)" font-size="28" text-anchor="end">100</text>
<text transform="translate(97.70,195.00) scale(0.98,1.05)" font-size="28" text-anchor="end">80</text>
<text transform="translate(97.70,282.00) scale(0.98,1.05)" font-size="28" text-anchor="end">60</text>
<text transform="translate(97.70,369.10) scale(0.98,1.05)" font-size="28" text-anchor="end">40</text>
<text transform="translate(97.70,456.10) scale(0.98,1.05)" font-size="28" text-anchor="end">20</text>
<text transform="translate(97.70,534.50) scale(0.98,1.05)" font-size="28" text-anchor="end">0</text>
<text transform="translate(283.58,568.30) scale(0.97,1.04)" font-size="28" text-anchor="middle">0.2</text>
<text transform="translate(446.56,568.30) scale(0.97,1.04)" font-size="28" text-anchor="middle">0.4</text>
<text transform="translate(609.54,568.30) scale(0.97,1.04)" font-size="28" text-anchor="middle">0.6</text>
<text transform="translate(772.52,568.30) scale(0.97,1.04)" font-size="28" text-anchor="middle">0.8</text>
<text transform="translate(527.40,597.00) scale(0.966,1.03)" font-size="28" text-anchor="middle">Time (s)</text>
<text transform="translate(31.60,316.00) rotate(-90) scale(0.968,1.05)" font-size="28" text-anchor="middle">Frequency (kHz)</text>
</svg>
</body></html>
